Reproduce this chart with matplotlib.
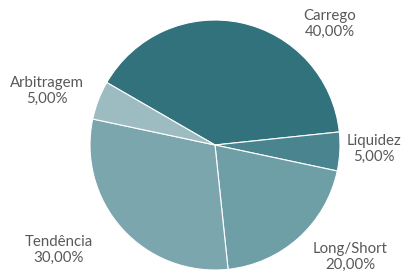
import matplotlib
matplotlib.use("Agg")
import matplotlib.pyplot as plt

categories = ["Carrego", "Liquidez", "Long/Short", "Tendência", "Arbitragem"]
values = [40.0, 5.0, 20.0, 30.0, 5.0]
colors = ["#31727D", "#4A858F", "#6E9FA6", "#7BA6AD", "#9CBCC1"]
# label centres in pixel coordinates of the 403x275 figure
label_px = [(330, 24), (374, 149), (350, 257), (59, 250), (47, 91)]

W, H = 403, 275
fig = plt.figure(figsize=(W / 100, H / 100), dpi=100)
cx, cy, r = 215, 145, 125
ax = fig.add_axes([(cx - r) / W, (H - cy - r) / H, 2 * r / W, 2 * r / H])
ax.pie(values, colors=colors, startangle=150, counterclock=False,
       wedgeprops=dict(edgecolor="white", linewidth=0.8), radius=1.0)
ax.set_xlim(-1, 1)
ax.set_ylim(-1, 1)
ax.set_aspect("equal")
ax.axis("off")

for cat, val, (px, py) in zip(categories, values, label_px):
    x = (px - cx) / r
    y = (cy - py) / r
    txt = f"{cat}\n{val:.2f}%".replace(".", ",")
    ax.text(x, y, txt, ha="center", va="center", fontsize=10.8,
            family=["Lato", "DejaVu Sans"], color="#595959",
            linespacing=1.22, clip_on=False)

fig.savefig("out.png", dpi=100)
